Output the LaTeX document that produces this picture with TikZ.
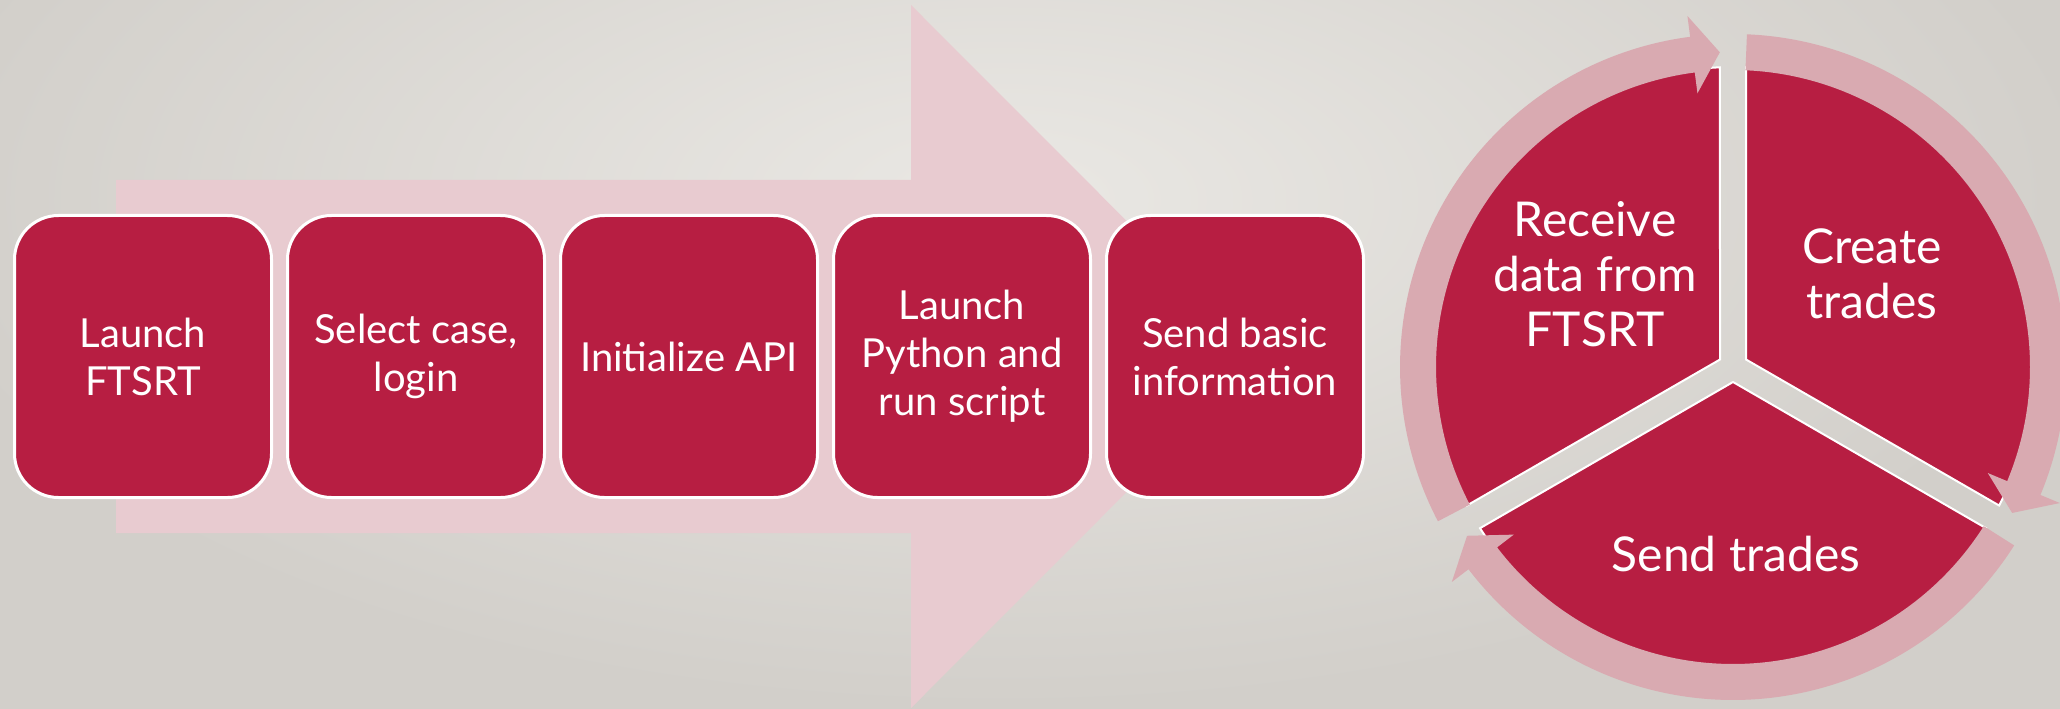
\documentclass[tikz,border=0pt]{standalone}
\usepackage{fontspec}
\setmainfont{Lato}
\usepackage{tikz}
\usetikzlibrary{positioning}
\definecolor{bgLight}{HTML}{EAE8E4}
\definecolor{bgDark}{HTML}{D2CFCA}
\definecolor{flowRed}{HTML}{B71E42}
\definecolor{flowPink}{HTML}{E8CBD0}
\definecolor{ringPink}{HTML}{D9AAB1}

\begin{document}
\begin{tikzpicture}[
    x=0.5pt, y=0.5pt,
    every node/.style={font=\fontsize{20}{24}\selectfont, text=white},
    stage/.style={rectangle, rounded corners=22pt, draw=white, line width=1.5pt,
                  fill=flowRed, minimum width=128.5pt, minimum height=141pt,
                  align=center, inner sep=0pt},
    seg/.style={fill=flowRed, draw=white, line width=1pt},
    ring/.style={fill=ringPink},
    cyc/.style={font=\fontsize{24}{27.5}\selectfont, align=center},
    node distance=6.5pt
  ]
  \useasboundingbox (0,0) rectangle (2060,708);

  % --- Background ---
  \begin{scope}
    \clip (0,0) rectangle (2060,708);
    \shade[inner color=bgLight, outer color=bgDark] (-100,0) rectangle (2100,1016);
  \end{scope}

  % --- Big process arrow behind the steps ---
  \fill[flowPink] (116,528) -- (911,528) -- (911,703) -- (1262,351.5)
    -- (911,0) -- (911,175) -- (116,175) -- cycle;

  % --- Process steps ---
  \node[stage] (launch) at (143,351.5) {Launch\\FTSRT};
  \node[stage,right=of launch] (select) {Select case,\\login};
  \node[stage,right=of select] (init) {Initialize API};
  \node[stage,right=of init] (python) {Launch\\Python and\\run script};
  \node[stage,right=of python] (basic) {Send basic\\information};

  % --- Cycle on the right ---
  \coordinate (hub) at (1733,341);
  \begin{scope}[shift={(hub)}]
    \foreach \m in {150,30,270}
      \filldraw[seg] (\m:15) -- ({\m-57.5}:300)
        arc[start angle=\m-57.5, end angle=\m+57.5, radius=300] -- cycle;

    \foreach \a/\b in {207.6/92.4, 87.6/-27.6, -32.4/-147.6} {
      \pgfmathsetmacro\hb{\b+5}
      \fill[ring] (\a:333) arc[start angle=\a, end angle=\hb, radius=333]
        -- (\hb:354) -- (\b:315) -- (\hb:276) -- (\hb:297)
        arc[start angle=\hb, end angle=\a, radius=297] -- cycle;
    }

    \node[cyc] (receive) at (-138,93) {Receive\\data from\\FTSRT};
    \node[cyc] (create) at (139,93) {Create\\trades};
    \node[cyc] (sendtr) at (3,-187) {Send trades};
  \end{scope}

\end{tikzpicture}
\end{document}
